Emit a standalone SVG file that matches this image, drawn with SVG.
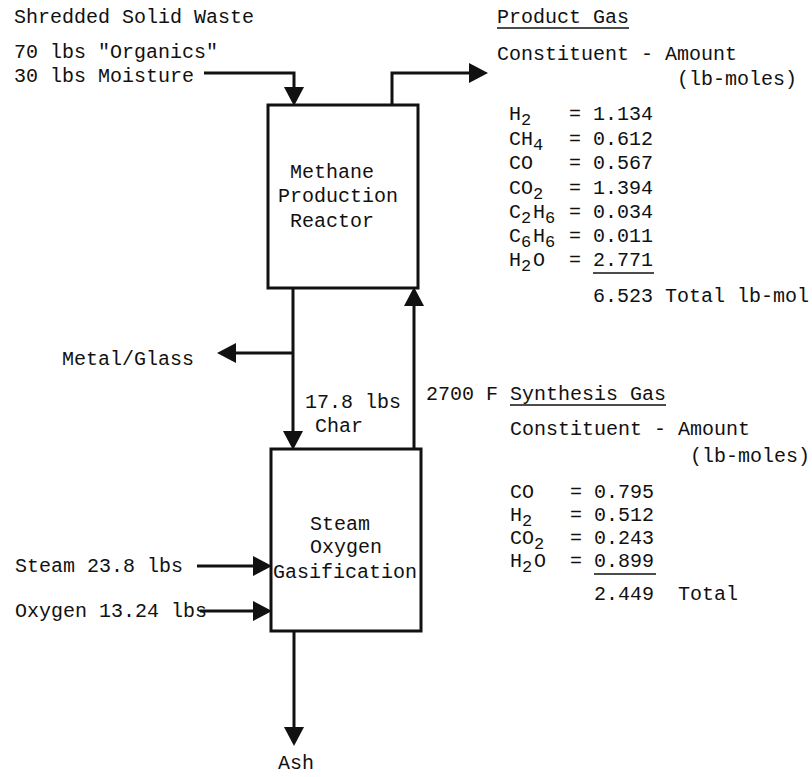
<svg xmlns="http://www.w3.org/2000/svg" width="812" height="777" viewBox="0 0 812 777">
<style>
text{font-family:"Liberation Mono","DejaVu Sans Mono",monospace;font-size:20px;fill:#111;white-space:pre}
.sub{font-size:17px}
.box{fill:#fff;stroke:#111;stroke-width:3}
.ln{fill:none;stroke:#111;stroke-width:3}
.ul{stroke:#111;stroke-width:1.5}
</style>
<defs>
<marker id="ah" viewBox="0 0 20 20" refX="10" refY="10" markerWidth="20" markerHeight="20" markerUnits="userSpaceOnUse" orient="auto">
<path d="M0,0 L19,10 L0,20 Z" fill="#111"/>
</marker>
</defs>
<rect width="812" height="777" fill="#fff"/>
<g id="connectors">
<path class="ln" d="M204,73 H294 V97" marker-end="url(#ah)"/>
<path class="ln" d="M392,105 V73 H479" marker-end="url(#ah)"/>
<path class="ln" d="M293,288 V441" marker-end="url(#ah)"/>
<path class="ln" d="M293,353 H226" marker-end="url(#ah)"/>
<path class="ln" d="M414,449 V296" marker-end="url(#ah)"/>
<path class="ln" d="M197,566 H263" marker-end="url(#ah)"/>
<path class="ln" d="M200,611 H263" marker-end="url(#ah)"/>
<path class="ln" d="M294,631 V737" marker-end="url(#ah)"/>
</g>
<g id="reactor">
<rect class="box" x="268" y="105" width="150" height="183"/>
<text x="290" y="178">Methane</text>
<text x="278" y="202">Production</text>
<text x="290" y="227">Reactor</text>
</g>
<g id="gasifier">
<rect class="box" x="271" y="449" width="150" height="182"/>
<text x="310" y="530">Steam</text>
<text x="310" y="553">Oxygen</text>
<text x="273" y="578">Gasification</text>
</g>
<g id="feed">
<text x="14" y="23">Shredded Solid Waste</text>
<text x="14" y="58">70 lbs "Organics"</text>
<text x="14" y="82">30 lbs Moisture</text>
</g>
<g id="inputs">
<text x="15" y="572">Steam 23.8 lbs</text>
<text x="15" y="617">Oxygen 13.24 lbs</text>
<text x="62" y="365">Metal/Glass</text>
<text x="305" y="408">17.8 lbs</text>
<text x="315" y="432">Char</text>
<text x="278" y="769">Ash</text>
</g>
<g id="product-gas">
<text x="497" y="23">Product Gas</text>
<line class="ul" x1="497" y1="28" x2="629" y2="28"/>
<text x="497" y="60">Constituent - Amount</text>
<text x="677" y="85">(lb-moles)</text>
<text x="509" y="120">H<tspan class="sub" dy="5">2</tspan></text><text x="569" y="120">= 1.134</text>
<text x="509" y="145">CH<tspan class="sub" dy="5">4</tspan></text><text x="569" y="145">= 0.612</text>
<text x="509" y="169">CO</text><text x="569" y="169">= 0.567</text>
<text x="509" y="194">CO<tspan class="sub" dy="5">2</tspan></text><text x="569" y="194">= 1.394</text>
<text x="509" y="218">C<tspan class="sub" dy="5" x="521">2</tspan><tspan dy="-5" x="533">H</tspan><tspan class="sub" dy="5" x="545">6</tspan></text><text x="569" y="218">= 0.034</text>
<text x="509" y="242">C<tspan class="sub" dy="5" x="521">6</tspan><tspan dy="-5" x="533">H</tspan><tspan class="sub" dy="5" x="545">6</tspan></text><text x="569" y="242">= 0.011</text>
<text x="509" y="266">H<tspan class="sub" dy="5" x="521">2</tspan><tspan dy="-5" x="533">O</tspan></text><text x="569" y="266">= 2.771</text>
<line class="ul" x1="593" y1="273" x2="654" y2="273"/>
<text x="593" y="302">6.523 Total lb-mol</text>
</g>
<g id="synthesis-gas">
<text x="426" y="400">2700 F Synthesis Gas</text>
<line class="ul" x1="510" y1="405" x2="666" y2="405"/>
<text x="510" y="435">Constituent - Amount</text>
<text x="690" y="462">(lb-moles)</text>
<text x="510" y="498">CO</text><text x="570" y="498">= 0.795</text>
<text x="510" y="521">H<tspan class="sub" dy="5">2</tspan></text><text x="570" y="521">= 0.512</text>
<text x="510" y="544">CO<tspan class="sub" dy="5">2</tspan></text><text x="570" y="544">= 0.243</text>
<text x="510" y="567">H<tspan class="sub" dy="5" x="522">2</tspan><tspan dy="-5" x="534">O</tspan></text><text x="570" y="567">= 0.899</text>
<line class="ul" x1="594" y1="574" x2="656" y2="574"/>
<text x="594" y="600">2.449  Total</text>
</g>
</svg>
